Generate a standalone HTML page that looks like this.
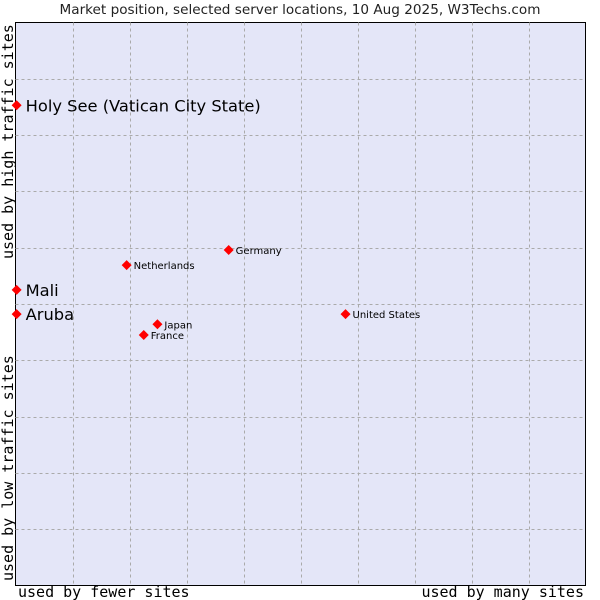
<!DOCTYPE html>
<html><head><meta charset="utf-8"><style>
body{margin:0;background:#fff;width:600px;height:600px;overflow:hidden}
svg{display:block}
</style></head><body>
<svg width="600" height="600">
<text x="300" y="14" text-anchor="middle" font-family="DejaVu Sans, sans-serif" font-size="13.6" fill="#222">Market position, selected server locations, 10 Aug 2025, W3Techs.com</text>
<rect x="15.5" y="22.5" width="570" height="563" fill="#e4e6f8" stroke="#000" stroke-width="1"/>
<g id="grid"></g>
<text transform="translate(13,581) rotate(-90)" font-family="DejaVu Sans Mono, Liberation Mono, monospace" font-size="15">used by low traffic sites</text>
<text transform="translate(13,259) rotate(-90)" font-family="DejaVu Sans Mono, Liberation Mono, monospace" font-size="15">used by high traffic sites</text>
<text x="18" y="597" font-family="DejaVu Sans Mono, Liberation Mono, monospace" font-size="15">used by fewer sites</text>
<text x="584" y="597" text-anchor="end" font-family="DejaVu Sans Mono, Liberation Mono, monospace" font-size="15">used by many sites</text>
<g id="points"></g>
</svg>
<script>
const names=["Holy See (Vatican City State)","Mali","Aruba","Netherlands","Germany","Japan","France","United States"];
const xVals=[0.2,0.2,0.2,19.5,37.4,24.9,22.5,57.9];
const yVals=[85.3,52.5,48.2,56.9,59.6,46.4,44.5,48.2];
const big=[true,true,true,false,false,false,false,false];
const X0=15.5,X1=585.5,Y0=585.5,Y1=22.5;
const xs=v=>X0+(X1-X0)*v/100, ys=v=>Y0-(Y0-Y1)*v/100;
const NS="http://www.w3.org/2000/svg";
const g=document.getElementById('grid');
for(let i=1;i<10;i++){
 const l=document.createElementNS(NS,'line');
 const x=Math.round(X0+(X1-X0)*i/10)+0.5;
 l.setAttribute('x1',x);l.setAttribute('x2',x);l.setAttribute('y1',Y1);l.setAttribute('y2',Y0);
 l.setAttribute('stroke','#aaa');l.setAttribute('stroke-dasharray','3,3');
 
 
 g.appendChild(l);
 const h=document.createElementNS(NS,'line');
 const y=Math.round(Y1+(Y0-Y1)*i/10)+0.5;
 h.setAttribute('x1',X0);h.setAttribute('x2',X1);h.setAttribute('y1',y);h.setAttribute('y2',y);
 h.setAttribute('stroke','#aaa');h.setAttribute('stroke-dasharray','3,3');
 
 
 g.appendChild(h);
}
const p=document.getElementById('points');
names.forEach((n,i)=>{
 const cx=xs(xVals[i]),cy=ys(yVals[i]);
 const d=document.createElementNS(NS,'path');
 d.setAttribute('d',`M${cx-5},${cy}L${cx},${cy-5}L${cx+5},${cy}L${cx},${cy+5}Z`);
 d.setAttribute('fill','#f00');
 
 
 p.appendChild(d);
 const t=document.createElementNS(NS,'text');
 t.setAttribute('x',cx+(big[i]?9:7));t.setAttribute('y',cy+(big[i]?6:4));
 t.setAttribute('font-family','DejaVu Sans, sans-serif');
 t.setAttribute('font-size',big[i]?'16.3':'10');
 t.textContent=n;
 
 
 p.appendChild(t);
});
</script>
</body></html>
